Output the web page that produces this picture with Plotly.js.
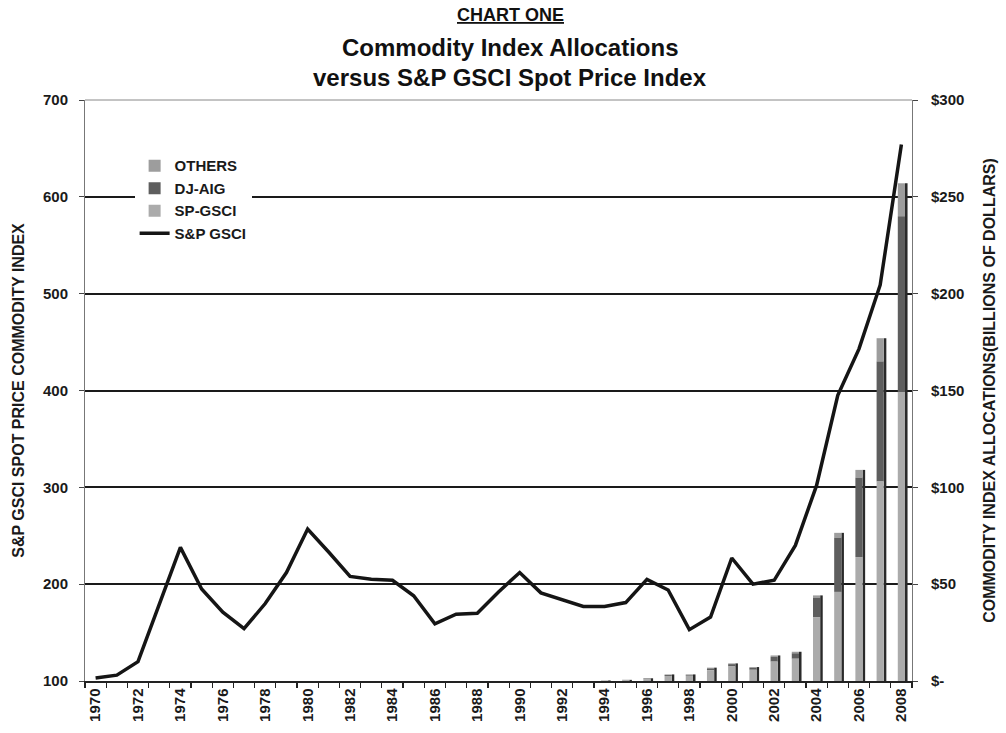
<!DOCTYPE html>
<html><head><meta charset="utf-8">
<script src="https://cdn.plot.ly/plotly-3.0.1.min.js"></script>
<style>html,body{margin:0;padding:0;background:#fff}#chart{width:1006px;height:733px}</style>
</head><body><div id="chart"></div>
<script>
const years = [1970,1971,1972,1973,1974,1975,1976,1977,1978,1979,1980,1981,1982,1983,1984,1985,1986,1987,1988,1989,1990,1991,1992,1993,1994,1995,1996,1997,1998,1999,2000,2001,2002,2003,2004,2005,2006,2007,2008];
// S&P GSCI spot price index (left axis)
const spotIndex = [103,106,120,180,238,195,171,154,180,212,257,233,208,205,204,188,159,169,170,192,212,191,184,177,177,181,205,194,153,166,227,200,204,240,302,395,443,509,654];
// Commodity index allocations, billions of dollars (right axis)
const spGsci = [0,0,0,0,0,0,0,0,0,0,0,0,0,0,0,0,0,0,0,0,0,0,0,0,0.3,0.5,1.0,2.6,2.7,5.5,7.5,5.8,10.0,11.5,33,46,64,103,149];
const djAig  = [0,0,0,0,0,0,0,0,0,0,0,0,0,0,0,0,0,0,0,0,0,0,0,0,0,0.1,0.3,0.5,0.5,1.0,1.2,1.0,2.5,2.8,10,28,41,62,91];
const others = [0,0,0,0,0,0,0,0,0,0,0,0,0,0,0,0,0,0,0,0,0,0,0,0,0,0,0.1,0.3,0.2,0.4,0.4,0.4,0.7,0.8,1.2,2.5,4,12,17];
const yearTickVals = [1970,1972,1974,1976,1978,1980,1982,1984,1986,1988,1990,1992,1994,1996,1998,2000,2002,2004,2006,2008];
const yearTickText = ['1970','1972','1974','1976','1978','1980','1982','1984','1986','1988','1990','1992','1994','1996','1998','2000','2002','2004','2006','2008'];
const indexTicks = [100,200,300,400,500,600,700];
const dollarTicks = [0,50,100,150,200,250,300];
const dollarText = ['$-','$50','$100','$150','$200','$250','$300'];

const baseDj = spGsci.slice();
const baseOthers = spGsci.map((v,i)=>v+djAig[i]);
const totals = spGsci.map((v,i)=>v+djAig[i]+others[i]);

const FF = '"Liberation Sans", Arial, sans-serif';
const bw = 0.34, bo = -0.17;

const traces = [
  {type:'bar', x:years, y:totals, base:0, width:0.12, offset:0.17, marker:{color:'#2a2a2a'}, showlegend:false, hoverinfo:'skip', yaxis:'y'},
  {type:'bar', name:'OTHERS', x:years, y:others, base:baseOthers, width:bw, offset:bo, marker:{color:'#9d9d9d'}, yaxis:'y'},
  {type:'bar', name:'DJ-AIG', x:years, y:djAig, base:baseDj, width:bw, offset:bo, marker:{color:'#5e5e5e'}, yaxis:'y'},
  {type:'bar', name:'SP-GSCI', x:years, y:spGsci, base:0, width:bw, offset:bo, marker:{color:'#ababab'}, yaxis:'y'},
  {type:'scatter', mode:'lines', name:'S&P GSCI', x:years, y:spotIndex, yaxis:'y2', line:{color:'#151515', width:3.5}}
];

const tickFont = {family:FF, size:15, color:'#1a1a1a', weight:700};
const titleFont = {family:FF, size:16, color:'#1a1a1a', weight:700};
const layout = {
  width:1006, height:733,
  margin:{l:85, r:94, t:100, b:52},
  paper_bgcolor:'#fff', plot_bgcolor:'#fff',
  barmode:'overlay',
  showlegend:true,
  legend:{x:0.06, y:0.915, xanchor:'left', yanchor:'top', bgcolor:'#fff', font:{family:FF, size:15, color:'#1a1a1a', weight:700}, traceorder:'normal', itemwidth:30, tracegroupgap:0},
  xaxis:{type:'linear', range:[1969.5,2008.5], tickvals:yearTickVals, ticktext:yearTickText, tickangle:-90, ticks:'', showgrid:false, zeroline:false,
         showline:true, linecolor:'#222', linewidth:1.5, tickfont:{family:FF, size:15, color:'#1a1a1a', weight:700},
         minor:{ticks:'outside', tick0:1969.5, dtick:1, ticklen:5, tickcolor:'#222', tickwidth:1.2, showgrid:false}},
  yaxis:{side:'right', range:[0,300], tickvals:dollarTicks, ticktext:dollarText, ticks:'outside', ticklen:5, tickcolor:'#444',
         showline:true, linecolor:'#777', linewidth:1, showgrid:false, zeroline:false, tickfont:tickFont, ticklabelstandoff:10,
         title:{text:'COMMODITY INDEX ALLOCATIONS(BILLIONS OF DOLLARS)', font:titleFont, standoff:20}},
  yaxis2:{overlaying:'y', side:'left', range:[100,700], tickvals:indexTicks, ticks:'outside', ticklen:5, tickcolor:'#444',
          showline:true, linecolor:'#777', linewidth:1, showgrid:true, gridcolor:'#1a1a1a', gridwidth:2, zeroline:false, tickfont:tickFont, ticklabelstandoff:8,
          title:{text:'S&P GSCI SPOT PRICE COMMODITY INDEX', font:titleFont, standoff:14}},
  shapes:[{type:'line', xref:'paper', yref:'paper', x0:0, x1:1, y0:1, y1:1, line:{color:'#888', width:1}}],
  annotations:[
    {xref:'paper', yref:'paper', x:0.514, y:1.146, xanchor:'center', yanchor:'middle', showarrow:false,
     text:'<span style="text-decoration:underline">CHART ONE</span>', font:{family:FF, size:18, color:'#111', weight:700}},
    {xref:'paper', yref:'paper', x:0.514, y:1.091, xanchor:'center', yanchor:'middle', showarrow:false,
     text:'Commodity Index Allocations', font:{family:FF, size:24, color:'#111', weight:700}},
    {xref:'paper', yref:'paper', x:0.514, y:1.038, xanchor:'center', yanchor:'middle', showarrow:false,
     text:'versus S&P GSCI Spot Price Index', font:{family:FF, size:24, color:'#111', weight:700}}
  ]
};
Plotly.newPlot('chart', traces, layout, {displayModeBar:false, staticPlot:true});
</script></body></html>
